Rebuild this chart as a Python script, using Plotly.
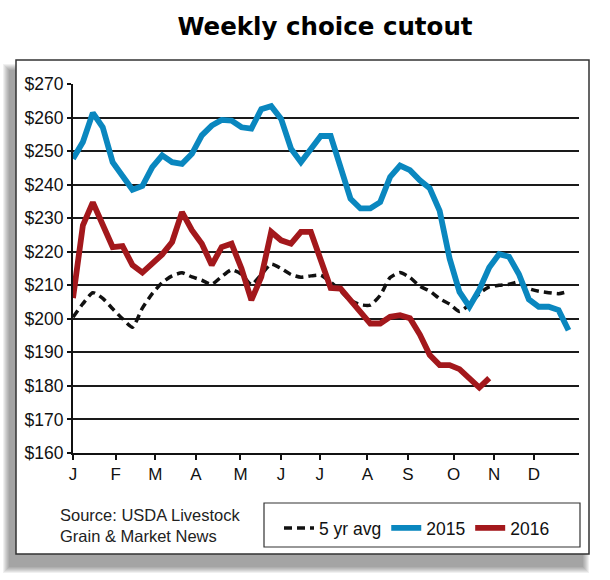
import plotly.graph_objects as go

# ---------------- data ----------------
avg_5yr = [200.5, 204.5, 207.8, 206.1, 203.0, 200.0, 197.5, 203.2, 207.5, 210.8,
           212.8, 213.7, 212.5, 211.5, 210.3, 212.6, 214.6, 213.3, 210.2, 213.2,
           216.3, 215.0, 213.2, 212.4, 212.8, 213.0, 211.0, 208.3, 205.5, 204.2,
           204.1, 207.0, 212.3, 213.8, 212.3, 209.7, 208.3, 206.0, 204.4, 202.2,
           204.3, 207.5, 209.5, 210.0, 210.3, 211.0, 209.0, 208.2, 207.8, 207.5,
           208.2]

cutout_2015 = [247.7, 252.7, 261.4, 257.1, 246.7, 242.3, 238.5, 239.6, 245.2, 248.7,
               246.7, 246.2, 249.2, 254.7, 257.6, 259.3, 259.1, 257.1, 256.7, 262.5,
               263.4, 259.6, 250.7, 246.7, 250.7, 254.5, 254.5, 244.8, 235.8, 232.9,
               232.9, 234.8, 242.3, 245.7, 244.3, 241.3, 238.9, 232.2, 218.0, 208.0,
               203.6, 208.7, 215.3, 219.3, 218.5, 213.3, 205.8, 203.6, 203.6, 202.6,
               196.6]

cutout_2016 = [206.2, 227.9, 234.7, 228.4, 221.4, 221.7, 216.0, 213.8, 216.5, 219.2,
               222.9, 231.8, 226.4, 222.4, 216.0, 221.4, 222.4, 215.0, 205.6, 212.5,
               225.9, 223.4, 222.4, 225.9, 225.9, 218.0, 209.2, 209.0, 205.6, 201.6,
               198.6, 198.6, 200.6, 201.1, 200.2, 195.3, 189.2, 186.2, 186.2, 185.0,
               182.5, 179.5, 182.3]

month_labels = ["J", "F", "M", "A", "M", "J", "J", "A", "S", "O", "N", "D"]
month_ticks = [0, 4.3, 8.3, 12.4, 16.9, 21.0, 24.9, 29.7, 33.8, 38.4, 42.5, 46.5]  # in week units

y_ticks = [160, 170, 180, 190, 200, 210, 220, 230, 240, 250, 260, 270]
y_labels = ["$" + str(v) for v in y_ticks]

series_names = ["5 yr avg", "2015", "2016"]

# ---------------- styling ----------------
W, H = 610, 580
L, R, T, B = 73, 31, 84, 127
PW, PH = W - L - R, H - T - B
SANS = "Liberation Sans, Arial, sans-serif"
BLUE = "#0A87BF"
RED = "#A3181C"


def px_x(px):
    return (px - L) / PW


def px_y(py):
    return (H - B - py) / PH


fig = go.Figure()
fig.add_trace(go.Scatter(x=list(range(len(avg_5yr))), y=avg_5yr, name=series_names[0],
                         mode="lines",
                         line=dict(color="#111111", width=3.5, dash="8px,5px",
                                   shape="spline", smoothing=0.6)))
fig.add_trace(go.Scatter(x=list(range(len(cutout_2015))), y=cutout_2015, name=series_names[1],
                         mode="lines", line=dict(color=BLUE, width=5.8)))
fig.add_trace(go.Scatter(x=list(range(len(cutout_2016))), y=cutout_2016, name=series_names[2],
                         mode="lines", line=dict(color=RED, width=5.8)))

shapes = []
# drop shadow of the outer frame (soft, offset down-left)
for k in range(7):
    shapes.append(dict(type="rect", xref="paper", yref="paper", layer="below",
                       x0=px_x(9 - k), x1=px_x(583 + k), y0=px_y(567 + k), y1=px_y(70 - k),
                       line=dict(width=0), fillcolor="rgba(0,0,0,0.06)"))
# white framed box
shapes.append(dict(type="rect", xref="paper", yref="paper", layer="below",
                   x0=px_x(16), x1=px_x(589), y0=px_y(554), y1=px_y(60),
                   line=dict(color="#333333", width=1.5), fillcolor="white"))
# legend frame
shapes.append(dict(type="rect", xref="paper", yref="paper", layer="above",
                   x0=px_x(264), x1=px_x(580), y0=px_y(547), y1=px_y(503),
                   line=dict(color="#333333", width=1.2), fillcolor="rgba(0,0,0,0)"))

fig.update_layout(
    width=W, height=H,
    margin=dict(l=L, r=R, t=T, b=B),
    paper_bgcolor="white",
    plot_bgcolor="rgba(0,0,0,0)",
    title=dict(text="Weekly choice cutout", x=325 / W, xanchor="center",
               y=1 - 26 / H, yanchor="middle",
               font=dict(family="DejaVu Sans, Liberation Sans, sans-serif", size=24.5,
                         color="#000000", weight="bold")),
    shapes=shapes,
    showlegend=True,
    legend=dict(orientation="h", x=px_x(279), y=px_y(510), xanchor="left", yanchor="top",
                borderwidth=0, bgcolor="rgba(0,0,0,0)",
                font=dict(family=SANS, size=17.5, color="#111111"),
                itemwidth=30, traceorder="normal"),
    annotations=[dict(text="Source: USDA Livestock<br>Grain & Market News",
                      xref="paper", yref="paper", x=px_x(58), y=px_y(525),
                      xanchor="left", yanchor="middle", align="left", showarrow=False,
                      font=dict(family=SANS, size=16.5, color="#222222"))],
)

fig.update_xaxes(range=[0, PW / 9.91], tickmode="array", tickvals=month_ticks,
                 ticktext=month_labels, showgrid=False, zeroline=False,
                 showline=True, linecolor="#111111", linewidth=2,
                 ticks="outside", ticklen=5, tickwidth=1.5, tickcolor="#111111",
                 tickfont=dict(family=SANS, size=17, color="#111111"))
fig.update_yaxes(range=[160, 270], tickmode="array", tickvals=y_ticks, ticktext=y_labels,
                 showgrid=True, gridcolor="#1a1a1a", gridwidth=1.8, zeroline=False,
                 showline=True, linecolor="#111111", linewidth=2,
                 ticks="outside", ticklen=4, tickwidth=1.5, tickcolor="#111111",
                 tickfont=dict(family=SANS, size=17.5, color="#111111"))

fig.write_html("out.html")
